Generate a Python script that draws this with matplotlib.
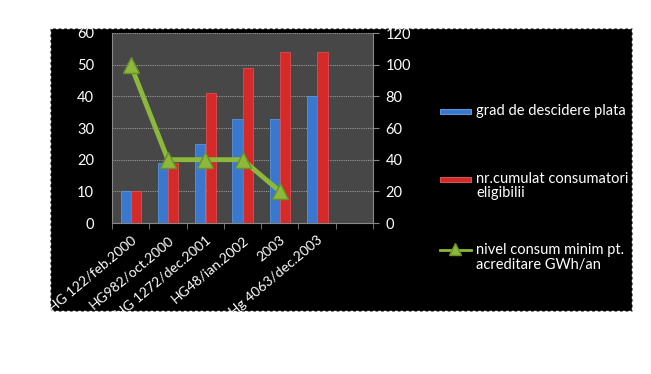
import numpy as np
import matplotlib.pyplot as plt
from matplotlib.patches import Rectangle
from matplotlib.lines import Line2D

plt.rcParams['font.family'] = ['Lato', 'DejaVu Sans']

categories = ['HG 122/feb.2000', 'HG982/oct.2000', 'HG 1272/dec.2001',
              'HG48/ian.2002', '2003', 'Hg 4063/dec.2003', '']
grad_deschidere = [10, 19, 25, 33, 33, 40, np.nan]
consumatori = [10, 19, 41, 49, 54, 54, np.nan]
nivel_consum = [100, 40, 40, 40, 20, np.nan, np.nan]

labels = ['grad de descidere plata', 'nr.cumulat consumatori\neligibilii',
          'nivel consum minim pt.\nacreditare GWh/an']
blue, red, green = '#3a78d0', '#d42a2a', '#8cb83c'

W, H = 651, 374
fig = plt.figure(figsize=(W / 100, H / 100), dpi=100, facecolor='white')

# black chart area with dotted border
bg = Rectangle((50 / W, 1 - 311 / H), 582 / W, 283 / H, transform=fig.transFigure,
               facecolor='black', edgecolor='white', linestyle=(0, (2, 2)),
               linewidth=1, zorder=-10)
fig.patches.append(bg)

ax = fig.add_axes([112 / W, 1 - 223 / H, 261 / W, 190 / H])
ax.set_facecolor('#474747')
x = np.arange(len(categories))
w = 0.27
ax.bar(x - 0.135, grad_deschidere, w, color=blue, edgecolor='#5aa0ee',
       linewidth=0.5, zorder=3)
ax.bar(x + 0.145, consumatori, w, color=red, edgecolor='#f05050',
       linewidth=0.5, zorder=3)
ax.set_xlim(-0.5, len(categories) - 0.5)
ax.set_ylim(0, 60)
ax.set_yticks(range(0, 61, 10))
ax.yaxis.grid(True, color='#9a9a9a', linestyle=(0, (1, 1)), linewidth=0.8, zorder=1)
ax.set_axisbelow(True)
ax.set_xticks(x)
ax.set_xticklabels(categories, rotation=40, ha='right', va='top', rotation_mode='anchor')
ax.set_xticks(np.arange(-0.5, len(categories), 1), minor=True)
ax.tick_params(axis='x', which='major', length=0, colors='white', labelsize=10, pad=8)
ax.tick_params(axis='x', which='minor', length=4, color='#888888')
ax.tick_params(axis='y', length=0, colors='white', labelsize=10.5, pad=13)
for s in ['top', 'right']:
    ax.spines[s].set_visible(False)
ax.spines['left'].set_color('#888888')
ax.spines['bottom'].set_color('#888888')

ax2 = ax.twinx()
ax2.plot(x, nivel_consum, color=green, linewidth=3.5, marker='^',
         markersize=11, markerfacecolor=green, markeredgecolor='#6a9028', zorder=5)
ax2.set_ylim(0, 120)
ax2.set_yticks(range(0, 121, 20))
ax2.tick_params(axis='y', length=4, color='#888888', colors='white', labelsize=10.5, pad=5)
for s in ['top', 'left', 'bottom']:
    ax2.spines[s].set_visible(False)
ax2.spines['right'].set_color('#888888')

# legend, drawn by hand to keep Excel-like spacing
legend_y = [111, 179, 250]
for i, (lab, y) in enumerate(zip(labels, legend_y)):
    fy = 1 - y / H
    if i < 2:
        fig.patches.append(Rectangle((440 / W, fy - 2.5 / H), 31 / W, 5 / H,
                                     transform=fig.transFigure,
                                     facecolor=[blue, red][i],
                                     edgecolor=['#6aaaf0', '#f06060'][i], linewidth=0.6))
    else:
        fig.lines.append(Line2D([440 / W, 471 / W], [fy, fy], transform=fig.transFigure,
                                color=green, linewidth=2))
        fig.lines.append(Line2D([455.5 / W], [fy + 1 / H], transform=fig.transFigure,
                                marker='^', markersize=9, color=green,
                                markeredgecolor='#6a9028'))
    for j, line in enumerate(lab.split('\n')):
        fig.text(476 / W, fy - j * 14.5 / H, line, color='white', fontsize=10.5,
                 va='center', ha='left')

fig.savefig('out.png', dpi=100, facecolor='white')
